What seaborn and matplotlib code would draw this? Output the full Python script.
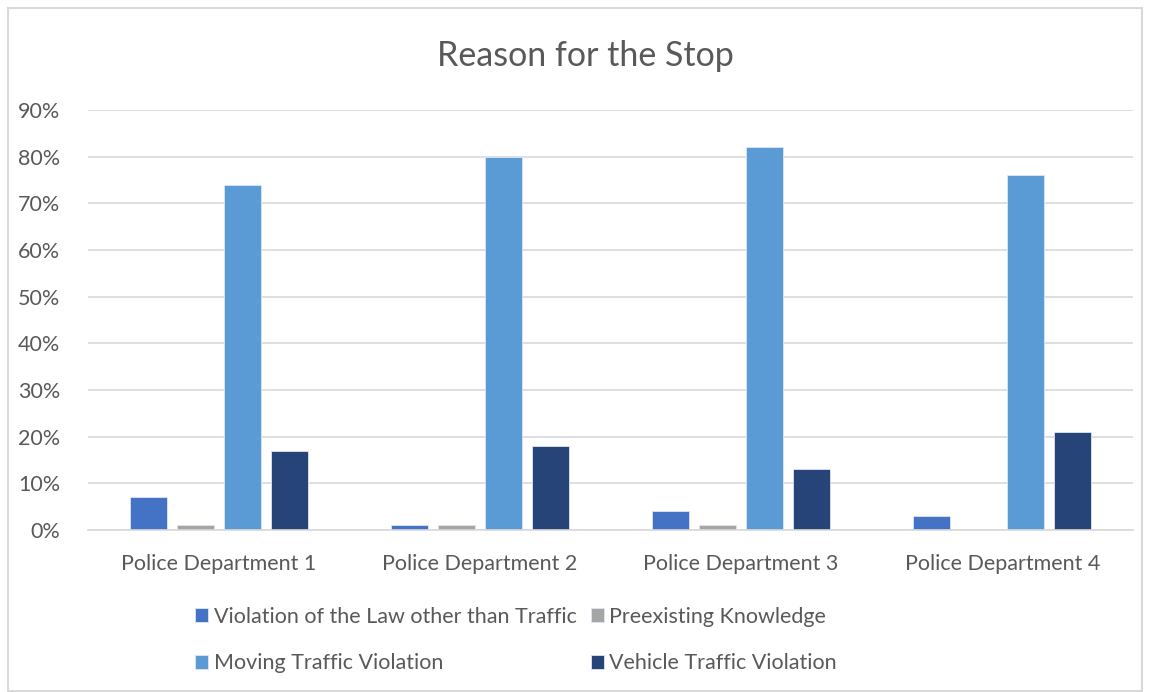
import matplotlib
matplotlib.use("Agg")
import matplotlib.pyplot as plt
import matplotlib.patches as mpatches
from matplotlib.ticker import FuncFormatter
import seaborn as sns
import pandas as pd

departments = ["Police Department 1", "Police Department 2",
               "Police Department 3", "Police Department 4"]
reasons = ["Violation of the Law other than Traffic", "Preexisting Knowledge",
           "Moving Traffic Violation", "Vehicle Traffic Violation"]
violation_other = [7, 1, 4, 3]
preexisting = [1, 1, 1, 0]
moving = [74, 80, 82, 76]
vehicle = [17, 18, 13, 21]
colors = ["#4472C4", "#A5A5A5", "#5B9BD5", "#264478"]

series = [violation_other, preexisting, moving, vehicle]
rows = []
for reason, vals in zip(reasons, series):
    for dept, v in zip(departments, vals):
        rows.append({"Department": dept, "Reason": reason, "Share": v / 100})
df = pd.DataFrame(rows)

sns.set_theme(style="white")
plt.rcParams["font.family"] = ["Lato", "DejaVu Sans"]
text_color = "#595959"

fig = plt.figure(figsize=(11.49, 6.92), dpi=100)
ax = fig.add_axes([88 / 1149, 1 - 530 / 692, (1133 - 88) / 1149, 420 / 692])

sns.barplot(data=df, x="Department", y="Share", hue="Reason",
            hue_order=reasons, order=departments, palette=colors,
            saturation=1, width=0.72, gap=0.21, edgecolor="#DDE6F3",
            linewidth=0.6, ax=ax, legend=True)

ax.set_ylim(0, 0.9)
ax.set_yticks([i / 10 for i in range(10)])
ax.yaxis.set_major_formatter(FuncFormatter(lambda v, _: f"{round(v * 100)}%"))
ax.grid(axis="y", color="#D9D9D9", linewidth=1.2)
ax.set_axisbelow(True)
for side in ["top", "right", "left"]:
    ax.spines[side].set_visible(False)
ax.spines["bottom"].set_color("#D9D9D9")
ax.spines["bottom"].set_linewidth(1.2)
ax.set_xlabel("")
ax.set_ylabel("")
ax.tick_params(axis="both", length=0, labelsize=15.5, colors=text_color)
ax.tick_params(axis="y", pad=20)
ax.tick_params(axis="x", pad=17)

fig.text(585 / 1149, 1 - 56 / 692, "Reason for the Stop", ha="center",
         va="center", fontsize=24.5, color=text_color)

# legend: row 1 = first two reasons, row 2 = last two
handles, labels = ax.get_legend_handles_labels()
ax.get_legend().remove()
order = [0, 2, 1, 3]
leg = fig.legend([handles[i] for i in order], [labels[i] for i in order],
                 ncol=2, loc="center", bbox_to_anchor=(516 / 1149, 1 - 640 / 692),
                 frameon=False, fontsize=15.5, handlelength=0.6, handleheight=0.6,
                 handletextpad=0.25, columnspacing=0.65, labelspacing=1.25,
                 labelcolor=text_color)

fig.patches.append(mpatches.Rectangle((8 / 1149, 0.002), 1134 / 1149, 1 - 8 / 692 - 0.002,
                                      transform=fig.transFigure, fill=False,
                                      edgecolor="#D9D9D9", linewidth=1.5))

fig.savefig("out.png", dpi=100)
